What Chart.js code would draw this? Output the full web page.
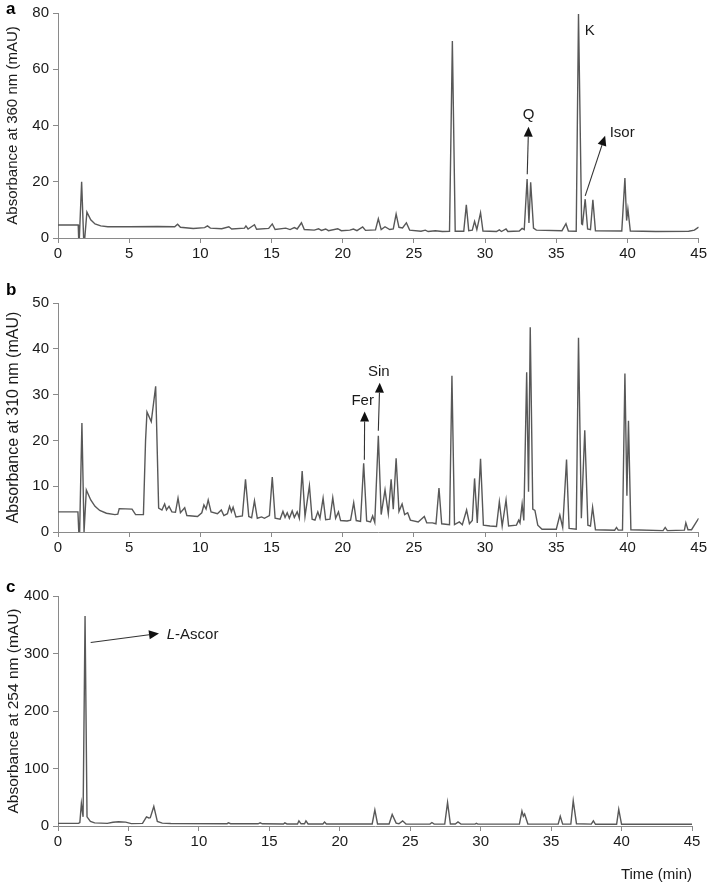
<!DOCTYPE html>
<html>
<head>
<meta charset="utf-8">
<script src="https://cdn.jsdelivr.net/npm/chart.js@4.4.1/dist/chart.umd.min.js"></script>
<style>
  body { margin: 0; background: #fff; width: 709px; height: 884px; position: relative; overflow: hidden; }
  .panel { position: absolute; left: 0; width: 709px; }
</style>
</head>
<body>
<div class="panel" style="top:0;height:270px"><canvas id="chartA"></canvas></div>
<div class="panel" style="top:280px;height:280px"><canvas id="chartB"></canvas></div>
<div class="panel" style="top:570px;height:314px"><canvas id="chartC"></canvas></div>
<script>
// ============================================
// DATA
// ============================================

// a: absorbance at 360 nm
const timeA = [0, 1.42, 1.45, 1.5, 1.66, 1.8, 1.88, 2.03, 2.3, 2.6, 3.0, 3.5, 5.0, 7.0, 8.2, 8.4, 8.6, 9.5, 10.3, 10.5, 10.7, 11.5, 12.0, 12.2, 13.1, 13.2, 13.35, 13.8, 13.95, 14.8, 15.05, 15.25, 16.0, 16.3, 16.6, 16.8, 17.1, 17.3, 18.0, 18.3, 18.5, 18.8, 19.0, 19.65, 19.9, 20.5, 20.75, 21.0, 21.4, 21.6, 22.3, 22.5, 22.7, 22.97, 23.3, 23.55, 23.75, 23.95, 24.2, 24.47, 24.7, 25.5, 25.8, 26.0, 26.5, 27.0, 27.5, 27.7, 27.9, 28.5, 28.68, 28.85, 29.1, 29.26, 29.42, 29.68, 29.85, 30.8, 31.0, 31.15, 31.47, 31.6, 32.4, 32.6, 32.75, 32.95, 33.08, 33.2, 33.4, 33.6, 35.4, 35.68, 35.85, 36.4, 36.56, 36.78, 36.84, 37.03, 37.2, 37.4, 37.57, 37.75, 39.6, 39.82, 39.94, 40.03, 40.2, 42.0, 44.3, 44.7, 45];
const absA  = [4.6, 4.6, 0, 0, 20, 0, 0, 9.2, 6.5, 5.0, 4.3, 4.0, 4.0, 4.1, 4.0, 4.9, 3.8, 3.4, 3.7, 4.3, 3.5, 3.3, 4.0, 3.2, 3.5, 4.3, 3.2, 4.7, 3.1, 3.4, 5.0, 3.0, 3.5, 3.0, 3.7, 3.2, 5.4, 3.0, 2.8, 3.3, 2.7, 3.2, 2.6, 3.3, 2.6, 2.8, 3.2, 2.6, 3.9, 2.7, 2.9, 6.8, 3.0, 4.0, 3.0, 3.2, 8.5, 3.8, 3.6, 5.4, 2.8, 2.4, 2.8, 2.3, 2.6, 2.3, 2.4, 70, 2.4, 2.4, 11.8, 2.6, 2.8, 5.9, 3.0, 9.0, 2.5, 2.3, 2.9, 2.3, 3.2, 2.3, 2.5, 3.4, 3.0, 21, 5.3, 19.8, 3.5, 2.8, 2.6, 5.1, 2.5, 2.4, 79.6, 5.0, 4.8, 13.8, 3.2, 3.0, 13.6, 2.6, 2.5, 21.3, 6.2, 10.3, 2.5, 2.3, 2.4, 2.8, 3.9];

// b: absorbance at 310 nm
const timeB = [0, 1.4, 1.46, 1.52, 1.68, 1.83, 1.88, 1.99, 2.3, 2.6, 2.93, 3.4, 4.0, 4.2, 4.3, 5.2, 5.45, 6.0, 6.15, 6.25, 6.55, 6.86, 7.07, 7.3, 7.49, 7.62, 7.8, 8.0, 8.25, 8.43, 8.6, 8.9, 9.05, 9.8, 10.1, 10.25, 10.4, 10.55, 10.75, 11.2, 11.47, 11.65, 11.9, 12.05, 12.18, 12.3, 12.5, 12.95, 13.17, 13.4, 13.6, 13.8, 14.0, 14.3, 14.5, 14.85, 15.05, 15.25, 15.6, 15.8, 15.95, 16.1, 16.25, 16.45, 16.6, 16.8, 16.95, 17.15, 17.35, 17.66, 17.85, 18.05, 18.25, 18.4, 18.62, 18.8, 19.1, 19.3, 19.5, 19.7, 19.85, 20.3, 20.55, 20.77, 20.95, 21.25, 21.47, 21.68, 21.95, 22.1, 22.25, 22.5, 22.7, 22.97, 23.2, 23.4, 23.55, 23.75, 23.95, 24.17, 24.35, 24.56, 24.75, 25.3, 25.73, 25.9, 26.3, 26.55, 26.76, 26.95, 27.5, 27.67, 27.85, 28.19, 28.4, 28.7, 28.9, 29.1, 29.26, 29.45, 29.68, 29.88, 30.35, 30.8, 31.0, 31.2, 31.47, 31.65, 32.2, 32.36, 32.45, 32.6, 32.72, 32.92, 33.05, 33.17, 33.35, 33.5, 33.7, 34.0, 35.0, 35.25, 35.45, 35.72, 35.9, 36.4, 36.56, 36.76, 37.0, 37.22, 37.4, 37.55, 37.75, 39.1, 39.23, 39.35, 39.65, 39.82, 39.96, 40.07, 40.24, 42.5, 42.65, 42.8, 44.0, 44.1, 44.25, 44.5, 45];
const absB  = [4.4, 4.4, 0, 0, 23.8, 0, 0, 9.2, 7.0, 5.6, 4.7, 4.1, 3.8, 3.9, 5.1, 5.0, 3.8, 3.8, 20, 26.2, 24.1, 31.8, 5.2, 4.8, 6.1, 4.8, 5.6, 4.4, 4.3, 7.4, 4.2, 5.3, 3.6, 3.4, 4.2, 5.9, 5.0, 7.0, 4.4, 4.0, 4.8, 3.6, 4.0, 5.6, 4.4, 5.4, 3.3, 3.5, 11.5, 3.4, 3.1, 6.8, 3.0, 3.3, 3.0, 3.6, 12.0, 3.0, 2.8, 4.5, 3.2, 4.2, 3.0, 4.6, 3.2, 4.4, 3.0, 13.3, 3.4, 10.1, 2.8, 2.6, 4.4, 3.0, 7.4, 2.7, 2.8, 7.5, 3.0, 4.4, 2.5, 2.4, 2.6, 6.4, 2.5, 2.3, 15.0, 2.4, 2.2, 3.5, 2.1, 21.0, 3.8, 9.2, 4.0, 11.5, 5.0, 16.1, 4.5, 6.1, 3.8, 4.2, 2.6, 2.2, 3.4, 2.0, 2.0, 1.8, 9.6, 1.8, 1.6, 34.1, 1.6, 2.2, 1.6, 4.8, 1.8, 2.5, 11.7, 2.0, 16.0, 1.5, 1.3, 1.2, 6.6, 1.3, 7.0, 1.3, 1.5, 2.6, 2.0, 6.1, 2.5, 34.9, 8.8, 44.7, 5.0, 4.7, 1.5, 0.6, 0.6, 3.7, 1.0, 15.8, 0.8, 0.6, 42.4, 3.0, 22.2, 1.5, 1.3, 5.4, 0.5, 0.4, 1.0, 0.4, 0.4, 34.6, 7.9, 24.3, 0.5, 0.3, 1.0, 0.3, 0.4, 2.0, 0.5, 0.5, 3.0];

// c: absorbance at 254 nm
const timeC = [0, 1.45, 1.55, 1.66, 1.78, 1.92, 2.06, 2.3, 2.6, 3.5, 3.9, 4.3, 4.8, 5.2, 6.0, 6.28, 6.45, 6.55, 6.8, 7.05, 7.4, 8.0, 12.0, 12.1, 12.25, 14.2, 14.35, 14.5, 16.0, 16.1, 16.25, 17.0, 17.1, 17.25, 17.5, 17.6, 17.75, 18.8, 18.92, 19.05, 22.3, 22.49, 22.68, 23.5, 23.72, 24.0, 24.2, 24.46, 24.7, 26.4, 26.54, 26.7, 27.45, 27.65, 27.85, 28.2, 28.39, 28.6, 29.6, 29.7, 29.8, 32.75, 32.93, 33.03, 33.12, 33.35, 35.5, 35.65, 35.82, 36.4, 36.57, 36.8, 37.85, 38.0, 38.15, 39.65, 39.8, 40.0, 45];
const absC  = [4.5, 4.5, 6, 39, 16, 365, 16, 8, 5.5, 4.5, 6.5, 7.5, 6.8, 4.2, 4.5, 15.7, 14, 14.5, 34, 8, 5, 4.4, 4.0, 5.5, 4.0, 3.8, 5.5, 3.8, 3.5, 5.5, 3.5, 3.6, 9, 3.8, 3.8, 9, 3.6, 3.5, 7, 3.4, 3.5, 28, 3.6, 3.5, 20, 5, 4, 9, 3.4, 3.2, 6, 3.2, 3.2, 41, 3.4, 3.4, 7, 3.3, 3.2, 4.5, 3.2, 3.3, 26, 17, 21, 3.4, 3.2, 17, 3.2, 3.2, 44, 4, 3.2, 9, 3, 3, 29, 3, 3];

// Rótulos dos picos: [texto, t, absorbância, alinhamento]
const labelsA = [['Q', 33.05, 43.9, 'center'], ['K', 37.0, 73.7, 'left'], ['Isor', 38.75, 37.3, 'left']];
const labelsB = [['Fer', 21.4, 28.7, 'center'], ['Sin', 22.53, 34.9, 'center']];
const labelsC = [['L-Ascor', 7.72, 332, 'left']];

// Setas: [t0, abs0, t1, abs1] (a ponta fica em t1/abs1)
const arrowsA = [[32.96, 22.7, 33.05, 39.6], [37.03, 15.0, 38.43, 36.4]];
const arrowsB = [[21.52, 15.8, 21.54, 26.3], [22.5, 22.1, 22.6, 32.6]];
const arrowsC = [[2.32, 319, 7.17, 335]];

const FONT = '"Liberation Sans", Arial, sans-serif';
const TEXT = '#1a1a1a';
const AXIS = '#8a8a8a';
const TRACE = '#585858';

// ============================================
// HELPERS
// ============================================

function drawArrow(ctx, x0, y0, x1, y1) {
  const ang = Math.atan2(y1 - y0, x1 - x0);
  const len = 10, half = 4.5;
  const bx = x1 - len * Math.cos(ang), by = y1 - len * Math.sin(ang);
  ctx.beginPath();
  ctx.moveTo(x0, y0);
  ctx.lineTo(bx, by);
  ctx.lineWidth = 1.1;
  ctx.strokeStyle = '#333';
  ctx.stroke();
  ctx.beginPath();
  ctx.moveTo(x1, y1);
  ctx.lineTo(bx + half * Math.sin(ang), by - half * Math.cos(ang));
  ctx.lineTo(bx - half * Math.sin(ang), by + half * Math.cos(ang));
  ctx.closePath();
  ctx.fillStyle = '#111';
  ctx.fill();
}

function notesPlugin(letter, labels, arrows) {
  return {
    id: 'notes',
    afterDatasetsDraw(chart) {
      const ctx = chart.ctx;
      const sx = chart.scales.x, sy = chart.scales.y;
      ctx.save();
      // letra do painel
      ctx.fillStyle = '#000';
      ctx.font = 'bold 17px ' + FONT;
      ctx.textAlign = 'left';
      ctx.textBaseline = 'top';
      ctx.fillText(letter.text, 6, letter.top);
      // setas
      arrows.forEach(a => {
        drawArrow(ctx, sx.getPixelForValue(a[0]), sy.getPixelForValue(a[1]),
                       sx.getPixelForValue(a[2]), sy.getPixelForValue(a[3]));
      });
      // rótulos
      ctx.fillStyle = TEXT;
      ctx.textBaseline = 'middle';
      labels.forEach(l => {
        const px = sx.getPixelForValue(l[1]), py = sy.getPixelForValue(l[2]);
        ctx.textAlign = l[3];
        if (l[0] === 'L-Ascor') {
          ctx.font = 'italic 15px ' + FONT;
          ctx.fillText('L', px, py);
          const w = ctx.measureText('L').width;
          ctx.font = '15px ' + FONT;
          ctx.fillText('-Ascor', px + w, py);
        } else {
          ctx.font = '15px ' + FONT;
          ctx.fillText(l[0], px, py);
        }
      });
      ctx.restore();
    }
  };
}

function buildPanel(id, times, values, cfg) {
  const ctx = document.getElementById(id).getContext('2d');
  return new Chart(ctx, {
    type: 'line',
    data: {
      datasets: [{
        data: times.map((t, i) => ({ x: t, y: values[i] })),
        borderColor: TRACE,
        borderWidth: 1.4,
        pointRadius: 0,
        tension: 0,
        fill: false
      }]
    },
    options: {
      responsive: true,
      maintainAspectRatio: false,
      animation: false,
      layout: { padding: { top: cfg.padTop, right: cfg.padRight, left: 0, bottom: 0 } },
      plugins: { legend: { display: false }, tooltip: { enabled: false } },
      scales: {
        x: {
          type: 'linear',
          min: 0,
          max: 45,
          ticks: { stepSize: 5, autoSkip: false, maxRotation: 0, color: TEXT, font: { family: FONT, size: 15 }, padding: 2 },
          grid: { display: true, drawOnChartArea: false, tickLength: 5, color: AXIS },
          border: { color: AXIS, width: 1 },
          title: cfg.xTitle ? { display: true, text: cfg.xTitle, align: 'end', color: TEXT, font: { family: FONT, size: 15 }, padding: { top: 0, bottom: 0 } } : { display: false },
          afterFit(s) { s.height = cfg.xHeight; }
        },
        y: {
          min: 0,
          max: cfg.yMax,
          ticks: { stepSize: cfg.yStep, color: TEXT, font: { family: FONT, size: 15 }, padding: 4 },
          grid: { display: true, drawOnChartArea: false, tickLength: 5, color: AXIS },
          border: { color: AXIS, width: 1 },
          title: { display: true, text: cfg.yTitle, color: TEXT, font: { family: FONT, size: cfg.yTitleSize }, padding: { top: 4, bottom: 0 } },
          afterFit(s) { s.width = 58; }
        }
      }
    },
    plugins: [notesPlugin(cfg.letter, cfg.labels, cfg.arrows)]
  });
}

// ============================================
// PANELS
// ============================================
buildPanel('chartA', timeA, absA, {
  padTop: 8, padRight: 9, xHeight: 32, yMax: 80, yStep: 20,
  yTitle: 'Absorbance at 360 nm (mAU)', yTitleSize: 15,
  letter: { text: 'a', top: 1 }, labels: labelsA, arrows: arrowsA
});

buildPanel('chartB', timeB, absB, {
  padTop: 23, padRight: 9, xHeight: 28, yMax: 50, yStep: 10,
  yTitle: 'Absorbance at 310 nm (mAU)', yTitleSize: 16,
  letter: { text: 'b', top: 2 }, labels: labelsB, arrows: arrowsB
});

buildPanel('chartC', timeC, absC, {
  padTop: 26, padRight: 17, xHeight: 58, yMax: 400, yStep: 100,
  yTitle: 'Absorbance at 254 nm (mAU)', yTitleSize: 15.5, xTitle: 'Time (min)',
  letter: { text: 'c', top: 9 }, labels: labelsC, arrows: arrowsC
});
</script>
</body>
</html>
